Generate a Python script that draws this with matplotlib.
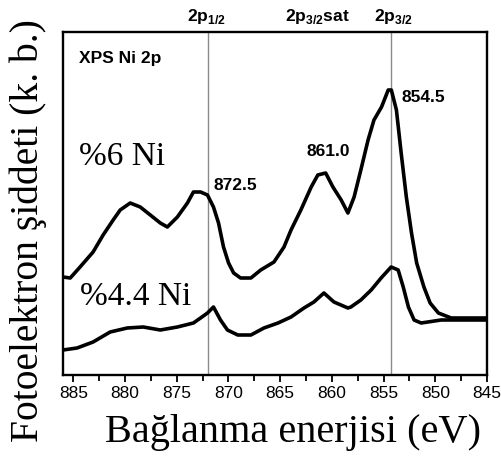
import matplotlib
matplotlib.use("Agg")
import matplotlib.pyplot as plt
from matplotlib.ticker import MultipleLocator

plt.rcParams['mathtext.fontset'] = 'custom'
plt.rcParams['mathtext.rm'] = 'Liberation Sans'
plt.rcParams['mathtext.bf'] = 'Liberation Sans:bold'

# Binding energy (eV) and intensity (arb. units)
energy_6 = [886.0, 885.3, 884.35, 883.09, 882.12, 881.15, 880.47, 879.5, 878.53, 877.56,
            876.59, 875.91, 874.94, 873.97, 873.39, 872.7, 872.03, 871.45, 870.96, 870.48,
            869.99, 869.5, 868.83, 867.83, 866.88, 865.6, 864.63, 863.95, 863.0, 862.0,
            861.36, 860.6, 859.9, 859.1, 858.45, 857.85, 857.2, 856.5, 855.93, 855.2,
            854.55, 854.25, 853.76, 853.3, 852.8, 852.3, 851.8, 851.1, 850.5, 849.7,
            848.46, 845.0]
intensity_6 = [98, 97, 108, 123, 140, 155, 165, 172, 168, 160,
               152, 148, 158, 172, 183, 183, 180, 168, 152, 128,
               112, 102, 97, 97, 105, 113, 128, 145, 165, 188,
               200, 202, 188, 175, 162, 178, 205, 235, 255, 268,
               285, 285, 265, 222, 178, 142, 112, 88, 72, 62,
               57, 57]

energy_44 = [886.0, 884.64, 883.09, 881.44, 879.79, 878.24, 876.59, 874.94, 873.39, 872.7,
             872.03, 871.45, 870.77, 870.1, 869.1, 867.83, 866.57, 865.21, 863.95, 862.7,
             861.74, 860.77, 859.8, 858.45, 858.16, 857.2, 856.2, 855.24, 854.27, 853.59,
             853.1, 852.6, 852.05, 851.37, 849.43, 845.0]
intensity_44 = [25, 27, 33, 43, 47, 48, 45, 48, 52, 57,
                62, 68, 55, 45, 40, 40, 47, 52, 58, 67,
                73, 82, 73, 67, 68, 75, 85, 97, 108, 105,
                88, 68, 55, 52, 55, 55]

xticks = [885, 880, 875, 870, 865, 860, 855, 850, 845]
line_positions = [872.0, 854.3]

fig = plt.figure(figsize=(5.02, 4.63), dpi=100)
ax = fig.add_axes([63/502, 1-375/463, (487-63)/502, (375-32)/463])

for xv in line_positions:
    ax.axvline(xv, color='#8a8a8a', lw=1.0, zorder=2)

ax.plot(energy_6, intensity_6, color='black', lw=2.6, zorder=6, solid_joinstyle='round')
ax.plot(energy_44, intensity_44, color='black', lw=2.6, zorder=6, solid_joinstyle='round')

ax.set_xlim(886.0, 845.0)
ax.set_ylim(0, 343)
ax.set_yticks([])
ax.xaxis.set_minor_locator(MultipleLocator(2.5))
ax.set_xticks(xticks)
ax.set_xticklabels([str(t) for t in xticks], fontfamily='Liberation Sans', fontsize=12.5)
ax.tick_params(axis='x', which='major', direction='out', length=5, width=1.3, pad=3)
ax.tick_params(axis='x', which='minor', direction='out', length=4, width=1.3)
for s in ax.spines.values():
    s.set_linewidth(1.7)

bold_sans = dict(fontfamily='Liberation Sans', fontweight='bold', fontsize=12.5)
ax.text(884.5, 316, 'XPS Ni 2p', ha='left', va='center', **bold_sans)
ax.text(871.45, 190, '872.5', ha='left', va='center', **bold_sans)
ax.text(862.5, 223, '861.0', ha='left', va='center', **bold_sans)
ax.text(853.3, 278, '854.5', ha='left', va='center', **bold_sans)

top = dict(fontsize=12.5, ha='left', va='center')
ax.text(874.0, 358, r'$\mathbf{2p}_{\mathbf{1/2}}$', **top)
ax.text(864.5, 358, r'$\mathbf{2p}_{\mathbf{3/2}}\mathbf{sat}$', **top)
ax.text(855.9, 358, r'$\mathbf{2p}_{\mathbf{3/2}}$', **top)

serif = dict(fontfamily='Liberation Serif', fontsize=24)
ax.text(884.5, 218, '%6 Ni', ha='left', va='center', zorder=7, **serif)
ax.text(884.35, 78, '%4.4 Ni', ha='left', va='center', zorder=4,
        bbox=dict(facecolor='white', edgecolor='none', pad=2), **serif)

fig.text(0.056, 0.503, 'Fotoelektron şiddeti (k. b.)', rotation=90,
         ha='center', va='center', fontfamily='Liberation Serif', fontsize=28.5)
fig.text(0.583, 0.065, 'Bağlanma enerjisi (eV)', ha='center', va='center',
         fontfamily='Liberation Serif', fontsize=29)

fig.savefig('out.png', dpi=100)
